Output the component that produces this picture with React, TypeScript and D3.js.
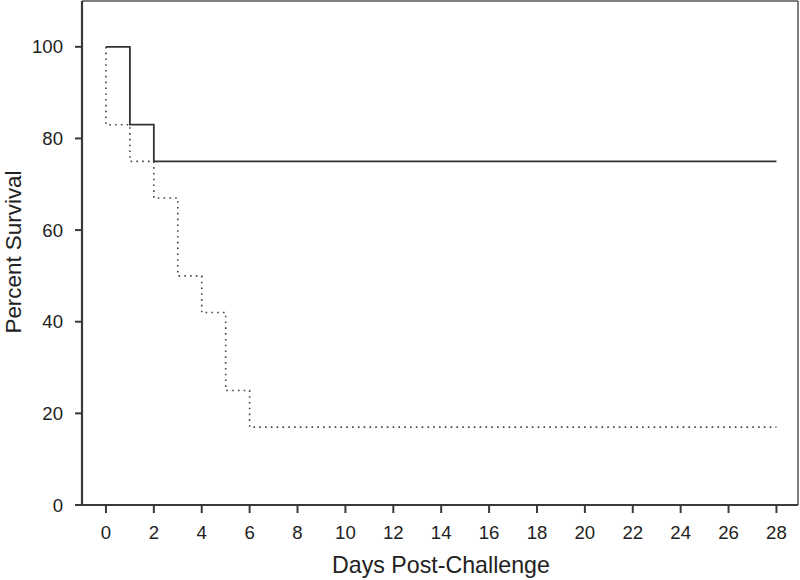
import React from "react";
import * as d3 from "d3";

const solidDays = [0, 1, 2, 28];
const solidSurv = [100, 83, 75, 75];
const dottedDays = [0, 0, 1, 2, 3, 4, 5, 6, 28];
const dottedSurv = [100, 83, 75, 67, 50, 42, 25, 17, 17];
const xTicks = [0, 2, 4, 6, 8, 10, 12, 14, 16, 18, 20, 22, 24, 26, 28];
const yTicks = [0, 20, 40, 60, 80, 100];

const W = 800, H = 580;
const left = 82, right = 798, top = 1, bottom = 505;

export default function App() {
  const x = d3.scaleLinear().domain([-1, 28.9]).range([left, right]);
  const y = d3.scaleLinear().domain([0, 110]).range([bottom, top]);
  const line = d3
    .line<[number, number]>()
    .x((d) => x(d[0]))
    .y((d) => y(d[1]))
    .curve(d3.curveStepAfter);
  const solid = solidDays.map((d, i) => [d, solidSurv[i]] as [number, number]);
  const dotted = dottedDays.map((d, i) => [d, dottedSurv[i]] as [number, number]);
  const font = "'Liberation Sans', Arial, sans-serif";
  return (
    <svg width={W} height={H} style={{ position: "absolute", left: 0, top: 0 }}>
      <rect width={W} height={H} fill="#fff" />
      {/* frame */}
      <line x1={left} x2={right} y1={top} y2={top} stroke="#555" strokeWidth={1.5} />
      <line x1={right} x2={right} y1={top} y2={bottom} stroke="#555" strokeWidth={1.5} />
      <line x1={left} x2={left} y1={top} y2={bottom + 1} stroke="#3a3a3a" strokeWidth={2.2} />
      <line x1={left - 1} x2={right} y1={bottom} y2={bottom} stroke="#3a3a3a" strokeWidth={2.2} />
      {yTicks.map((t) => (
        <g key={"y" + t}>
          <line x1={left - 7} x2={left} y1={y(t)} y2={y(t)} stroke="#3a3a3a" strokeWidth={2} />
          <text x={left - 19} y={y(t)} dy="0.35em" textAnchor="end" fontSize={18.6} fontFamily={font} fill="#222">
            {t}
          </text>
        </g>
      ))}
      {xTicks.map((t) => (
        <g key={"x" + t}>
          <line x1={x(t)} x2={x(t)} y1={bottom} y2={bottom + 8} stroke="#3a3a3a" strokeWidth={2} />
          <text x={x(t)} y={539} textAnchor="middle" fontSize={18.6} fontFamily={font} fill="#222">
            {t}
          </text>
        </g>
      ))}
      <text x={(left + right) / 2 + 1} y={573} textAnchor="middle" fontSize={23.2} fontFamily={font} fill="#222">
        Days Post-Challenge
      </text>
      <text
        transform={`translate(21, 252) rotate(-90)`}
        textAnchor="middle"
        fontSize={22.4}
        fontFamily={font}
        fill="#222"
      >
        Percent Survival
      </text>
      <path d={line(dotted) || ""} fill="none" stroke="#444" strokeWidth={1.6} strokeDasharray="1.6,4.2" />
      <path d={line(solid) || ""} fill="none" stroke="#333" strokeWidth={1.8} />
    </svg>
  );
}
